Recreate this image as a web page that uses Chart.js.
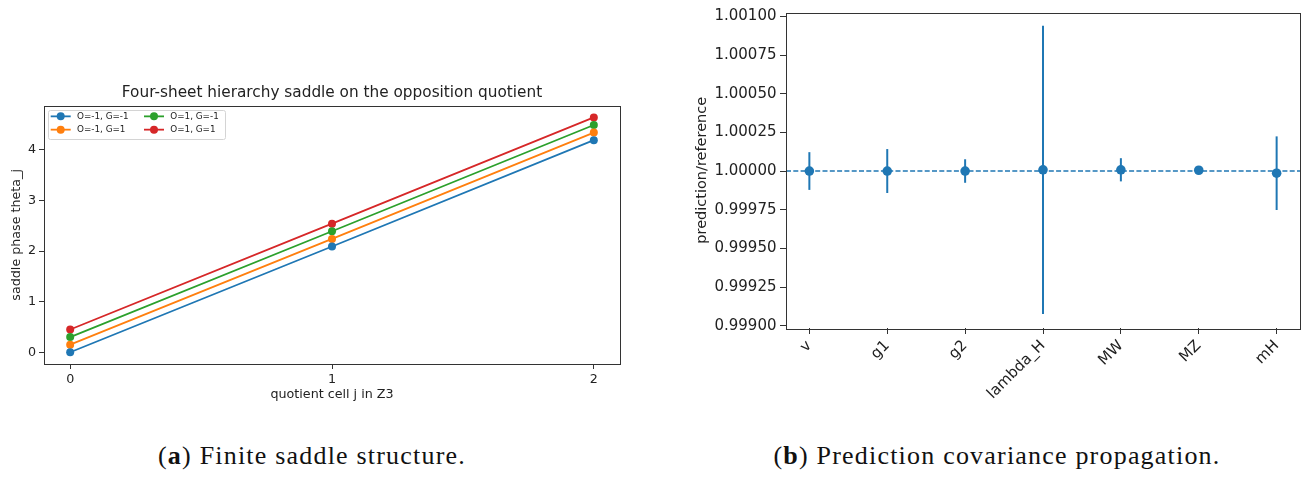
<!DOCTYPE html>
<html>
<head>
<meta charset="utf-8">
<script src="https://cdn.jsdelivr.net/npm/chart.js@4.4.1/dist/chart.umd.min.js"></script>
<style>
  html, body { margin: 0; padding: 0; background: #fff; }
  body { width: 1310px; height: 479px; position: relative; overflow: hidden; }
  canvas { position: absolute; top: 0; }
  #saddleChart { left: 0; }
  #covChart { left: 680px; }
  .caption {
    position: absolute; top: 440px; transform: translateX(-50%);
    font-family: "Liberation Serif", serif; font-size: 26px; line-height: 32px;
    letter-spacing: 1.2px; white-space: nowrap; color: #111;
  }
</style>
</head>
<body>
<canvas id="saddleChart" width="640" height="420"></canvas>
<canvas id="covChart" width="630" height="420"></canvas>
<div class="caption" style="left:312px">(<b>a</b>) Finite saddle structure.</div>
<div class="caption" style="left:997px">(<b>b</b>) Prediction covariance propagation.</div>
<script>
// left panel data
const cells = [0, 1, 2];
const seriesLabels = ['O=-1, G=-1', 'O=-1, G=1', 'O=1, G=-1', 'O=1, G=1'];
const thetaOmGm = [0.00, 2.09, 4.19];
const thetaOmGp = [0.15, 2.24, 4.34];
const thetaOpGm = [0.30, 2.39, 4.49];
const thetaOpGp = [0.45, 2.54, 4.64];
const thetaTicks = [0, 1, 2, 3, 4];

// right panel data
const params = ['v', 'g1', 'g2', 'lambda_H', 'MW', 'MZ', 'mH'];
const ratio = [1.00000, 1.00000, 1.00000, 1.000008, 1.000008, 1.000005, 0.999986];
const ratioErr = [0.000122, 0.000142, 0.000076, 0.000932, 0.000075, 0.000005, 0.000238];
const ratioTicks = [0.999, 0.99925, 0.9995, 0.99975, 1.0, 1.00025, 1.0005, 1.00075, 1.001];

const colors = ['#1f77b4', '#ff7f0e', '#2ca02c', '#d62728'];

Chart.defaults.font.family = "'DejaVu Sans'";
Chart.defaults.color = '#222';

// matplotlib-like box around the axes
const frame = {
    id: 'frame',
    afterDraw(chart) {
        const { ctx, chartArea: a } = chart;
        ctx.save();
        ctx.strokeStyle = '#333';
        ctx.lineWidth = 1;
        ctx.strokeRect(Math.round(a.left) + 0.5, Math.round(a.top) + 0.5,
            Math.round(a.right - a.left), Math.round(a.bottom - a.top));
        ctx.restore();
    }
};

// two-column legend in the upper left corner
const boxLegend = {
    id: 'boxLegend',
    afterDraw(chart) {
        const { ctx, chartArea: a } = chart;
        const x0 = a.left + 4, y0 = a.top + 4;
        ctx.save();
        ctx.fillStyle = 'rgba(255,255,255,0.85)';
        ctx.strokeStyle = '#d4d4d4';
        ctx.lineWidth = 1;
        ctx.beginPath();
        ctx.roundRect(Math.round(x0) + 0.5, Math.round(y0) + 0.5, 177, 29, 2);
        ctx.fill();
        ctx.stroke();
        ctx.font = "8.8px 'DejaVu Sans'";
        ctx.textBaseline = 'middle';
        ctx.textAlign = 'left';
        chart.data.datasets.forEach((ds, i) => {
            const col = Math.floor(i / 2), row = i % 2;
            const mx = x0 + 12.7 + col * 93.3;
            const my = y0 + 6.7 + row * 13.3;
            ctx.strokeStyle = ds.borderColor;
            ctx.lineWidth = 1.8;
            ctx.beginPath();
            ctx.moveTo(mx - 10, my);
            ctx.lineTo(mx + 10, my);
            ctx.stroke();
            ctx.fillStyle = ds.backgroundColor;
            ctx.beginPath();
            ctx.arc(mx, my, 4, 0, Math.PI * 2);
            ctx.fill();
            ctx.fillStyle = '#222';
            ctx.fillText(ds.label, mx + 16.3, my + 0.5);
        });
        ctx.restore();
    }
};

// dashed reference line and vertical error bars
const errorBars = {
    id: 'errorBars',
    beforeDatasetsDraw(chart) {
        const { ctx, chartArea: a, scales: { x, y } } = chart;
        ctx.save();
        ctx.strokeStyle = colors[0];
        ctx.lineWidth = 1.3;
        ctx.setLineDash([5, 2.3]);
        const y1 = y.getPixelForValue(1);
        ctx.beginPath();
        ctx.moveTo(a.left, y1);
        ctx.lineTo(a.right, y1);
        ctx.stroke();
        ctx.setLineDash([]);
        ctx.lineWidth = 2;
        ratio.forEach((v, i) => {
            const px = x.getPixelForValue(i);
            ctx.beginPath();
            ctx.moveTo(px, y.getPixelForValue(v - ratioErr[i]));
            ctx.lineTo(px, y.getPixelForValue(v + ratioErr[i]));
            ctx.stroke();
        });
        ctx.restore();
    }
};

function tickGrid(len) {
    return { display: true, drawOnChartArea: false, drawTicks: true, tickLength: len, tickColor: '#333', tickWidth: 1 };
}

const saddleSeries = [thetaOmGm, thetaOmGp, thetaOpGm, thetaOpGp];

new Chart(document.getElementById('saddleChart'), {
    type: 'line',
    data: {
        datasets: saddleSeries.map((vals, i) => ({
            label: seriesLabels[i],
            data: vals.map((v, j) => ({ x: cells[j], y: v })),
            borderColor: colors[i],
            backgroundColor: colors[i],
            borderWidth: 1.8,
            pointRadius: 4,
            pointBorderWidth: 0,
            tension: 0
        }))
    },
    options: {
        responsive: false,
        animation: false,
        layout: { padding: { left: 0, right: 20, top: 0, bottom: 0 } },
        plugins: {
            legend: { display: false },
            tooltip: { enabled: false },
            title: {
                display: true,
                text: 'Four-sheet hierarchy saddle on the opposition quotient',
                fullSize: false,
                font: { size: 15.3, weight: 'normal' },
                color: '#222',
                padding: { top: 84, bottom: 3.3 }
            }
        },
        scales: {
            x: {
                type: 'linear',
                min: -0.1,
                max: 2.1,
                afterBuildTicks: s => { s.ticks = cells.map(v => ({ value: v })); },
                afterFit: s => { s.height = 56; },
                ticks: { font: { size: 12.7 }, padding: 3, maxRotation: 0 },
                grid: tickGrid(5),
                border: { display: false },
                title: { display: true, text: 'quotient cell j in Z3', font: { size: 12.7 }, padding: { top: 0, bottom: 17.4 } }
            },
            y: {
                min: -0.232,
                max: 4.872,
                afterBuildTicks: s => { s.ticks = thetaTicks.map(v => ({ value: v })); },
                afterFit: s => { s.width = 44; },
                ticks: { font: { size: 12.7 }, padding: 3 },
                grid: tickGrid(5),
                border: { display: false },
                title: { display: true, text: 'saddle phase theta_j', font: { size: 12.7 }, padding: { top: 9.4, bottom: 0 } }
            }
        }
    },
    plugins: [frame, boxLegend]
});

new Chart(document.getElementById('covChart'), {
    type: 'scatter',
    data: {
        datasets: [{
            label: 'prediction/reference',
            data: ratio.map((v, i) => ({ x: i, y: v })),
            backgroundColor: colors[0],
            borderColor: colors[0],
            pointRadius: 4.8,
            pointBorderWidth: 0,
            showLine: false
        }]
    },
    options: {
        responsive: false,
        animation: false,
        layout: { padding: { left: 0, right: 10, top: 11, bottom: 0 } },
        plugins: { legend: { display: false }, tooltip: { enabled: false } },
        scales: {
            x: {
                type: 'linear',
                min: -0.3,
                max: 6.3,
                afterBuildTicks: s => { s.ticks = params.map((p, i) => ({ value: i })); },
                afterFit: s => { s.height = 92; },
                ticks: {
                    font: { size: 15 },
                    padding: 3,
                    autoSkip: false,
                    minRotation: 45,
                    maxRotation: 45,
                    callback: v => params[Math.round(v)]
                },
                grid: tickGrid(6),
                border: { display: false }
            },
            y: {
                min: 0.998985,
                max: 1.001025,
                afterBuildTicks: s => { s.ticks = ratioTicks.map(v => ({ value: v })); },
                afterFit: s => { s.width = 106; },
                ticks: { font: { size: 15 }, padding: 3.5, callback: v => v.toFixed(5) },
                grid: tickGrid(6),
                border: { display: false },
                title: { display: true, text: 'prediction/reference', font: { size: 14.5 }, padding: { top: 13.3, bottom: 0 } }
            }
        }
    },
    plugins: [frame, errorBars]
});
</script>
</body>
</html>
